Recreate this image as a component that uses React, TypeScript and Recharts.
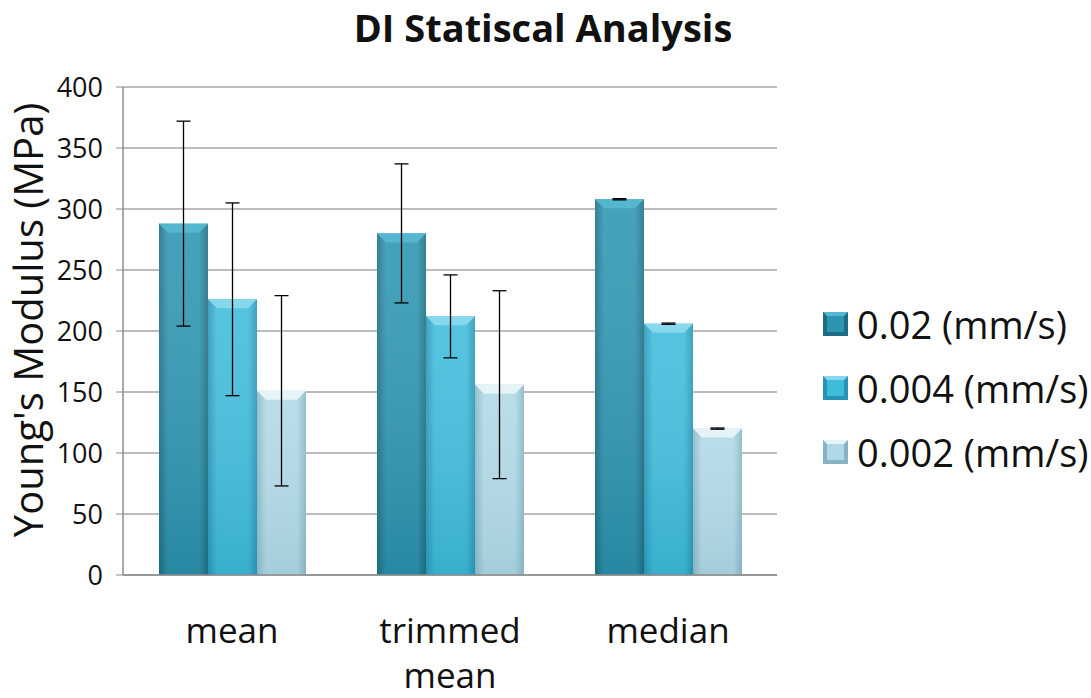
import { Bar, BarChart, CartesianGrid, ErrorBar, Legend, XAxis, YAxis } from "recharts";

const categories = ["mean", "trimmed mean", "median"];
const fastValues = [288, 280, 308];
const fastErrors = [84, 57, 0.5];
const midValues = [226, 212, 206];
const midErrors = [79, 34, 0.5];
const slowValues = [151, 156, 120];
const slowErrors = [78, 77, 0.5];
const yTicks = [0, 50, 100, 150, 200, 250, 300, 350, 400];
const seriesNames = ["0.02 (mm/s)", "0.004 (mm/s)", "0.002 (mm/s)"];

const FONT = "'Open Sans', sans-serif";

// bevelled Excel-style bars: edge/center/edge shades plus a lighter top facet
const TONES = {
  fast: { edge: "#1d6c83", mid: "#2c95b0", top: "#55b6cf", bottomEdge: "#1a6176" },
  mid: { edge: "#2894b4", mid: "#3ebcdc", top: "#86d8ec", bottomEdge: "#2486a4" },
  slow: { edge: "#86b4c4", mid: "#b0d9e5", top: "#e4f4f8", bottomEdge: "#7fa9b9" },
} as const;

type ToneKey = keyof typeof TONES;
const toneOrder: ToneKey[] = ["fast", "mid", "slow"];

const data = categories.map((name, i) => ({
  name,
  fast: fastValues[i],
  fastErr: fastErrors[i],
  mid: midValues[i],
  midErr: midErrors[i],
  slow: slowValues[i],
  slowErr: slowErrors[i],
}));

function BevelBar(props: any) {
  const { x, y, width, height, tone } = props;
  if (!height || height <= 0) return null;
  const bevel = Math.min(9, width / 5);
  return (
    <g>
      <rect x={x} y={y} width={width} height={height} fill={`url(#body-${tone})`} />
      <rect x={x} y={y} width={width} height={height} fill={`url(#shade-${tone})`} />
      <polygon
        points={`${x},${y} ${x + width},${y} ${x + width - bevel},${y + bevel} ${x + bevel},${y + bevel}`}
        fill={TONES[tone as ToneKey].top}
      />
    </g>
  );
}

function CategoryTick({ x, y, payload }: any) {
  const words = String(payload.value).split(" ");
  return (
    <text x={x} y={y} textAnchor="middle" fontSize={35} fontFamily={FONT} fill="#111">
      {words.map((w, i) => (
        <tspan key={i} x={x} dy={i === 0 ? 68 : 45}>
          {w}
        </tspan>
      ))}
    </text>
  );
}

function SpeedLegend() {
  return (
    <div style={{ display: "flex", flexDirection: "column", fontFamily: FONT }}>
      {seriesNames.map((name, i) => {
        const t = TONES[toneOrder[i]];
        return (
          <div
            key={name}
            style={{ display: "flex", alignItems: "center", height: 64, fontSize: 38, color: "#111", whiteSpace: "nowrap" }}
          >
            <svg width={25} height={24} style={{ marginRight: 9, flex: "none" }}>
              <rect x={0} y={0} width={25} height={24} fill={t.edge} />
              <rect x={4} y={4} width={17} height={16} fill={t.mid} />
              <polygon points="0,0 25,0 21,4 4,4" fill={t.top} />
            </svg>
            <span>{name}</span>
          </div>
        );
      })}
    </div>
  );
}

export default function App() {
  return (
    <div style={{ position: "absolute", left: 0, top: 0, width: 1091, height: 698, background: "#fff", fontFamily: FONT }}>
      <BarChart
        width={1091}
        height={698}
        data={data}
        margin={{ top: 87, right: 314, bottom: 23, left: 23 }}
        barCategoryGap={36}
        barGap={0}
      >
        <defs>
          {toneOrder.map((k) => (
            <linearGradient key={`b-${k}`} id={`body-${k}`} x1="0" y1="0" x2="1" y2="0">
              <stop offset="0%" stopColor={TONES[k].edge} />
              <stop offset="18%" stopColor={TONES[k].mid} />
              <stop offset="82%" stopColor={TONES[k].mid} />
              <stop offset="100%" stopColor={TONES[k].edge} />
            </linearGradient>
          ))}
          {toneOrder.map((k) => (
            <linearGradient key={`s-${k}`} id={`shade-${k}`} x1="0" y1="0" x2="0" y2="1">
              <stop offset="0%" stopColor="#ffffff" stopOpacity={0.12} />
              <stop offset="100%" stopColor={TONES[k].bottomEdge} stopOpacity={0.25} />
            </linearGradient>
          ))}
        </defs>
        <text x={543} y={42} textAnchor="middle" fontSize={38} fontWeight={700} fill="#111" fontFamily={FONT}>
          DI Statiscal Analysis
        </text>
        <text
          x={0}
          y={0}
          transform="translate(43 320) rotate(-90)"
          textAnchor="middle"
          fontSize={40}
          fill="#111"
          fontFamily={FONT}
        >
          Young's Modulus (MPa)
        </text>
        <CartesianGrid horizontal vertical={false} stroke="#a6a6a6" strokeWidth={1.5} />
        <XAxis
          dataKey="name"
          tick={<CategoryTick />}
          tickLine={false}
          tickSize={0}
          tickMargin={0}
          height={100}
          axisLine={{ stroke: "#8c8c8c", strokeWidth: 1.5 }}
          interval={0}
        />
        <YAxis
          domain={[0, 400]}
          ticks={yTicks}
          width={100}
          tickSize={7}
          tickMargin={13}
          tick={{ fontSize: 27, fill: "#111", fontFamily: FONT }}
          tickLine={{ stroke: "#8c8c8c" }}
          axisLine={{ stroke: "#8c8c8c", strokeWidth: 1.5 }}
          interval={0}
        />
        <Legend
          layout="vertical"
          align="center"
          verticalAlign="middle"
          content={<SpeedLegend />}
          wrapperStyle={{ left: 823, top: 292, width: 268 }}
        />
        <Bar
          dataKey="fast"
          name={seriesNames[0]}
          fill={TONES.fast.mid}
          shape={(p: any) => <BevelBar {...p} tone="fast" />}
          isAnimationActive={false}
        >
          <ErrorBar dataKey="fastErr" width={7} stroke="#000" strokeWidth={1.3} isAnimationActive={false} />
        </Bar>
        <Bar
          dataKey="mid"
          name={seriesNames[1]}
          fill={TONES.mid.mid}
          shape={(p: any) => <BevelBar {...p} tone="mid" />}
          isAnimationActive={false}
        >
          <ErrorBar dataKey="midErr" width={7} stroke="#000" strokeWidth={1.3} isAnimationActive={false} />
        </Bar>
        <Bar
          dataKey="slow"
          name={seriesNames[2]}
          fill={TONES.slow.mid}
          shape={(p: any) => <BevelBar {...p} tone="slow" />}
          isAnimationActive={false}
        >
          <ErrorBar dataKey="slowErr" width={7} stroke="#000" strokeWidth={1.3} isAnimationActive={false} />
        </Bar>
      </BarChart>
    </div>
  );
}
